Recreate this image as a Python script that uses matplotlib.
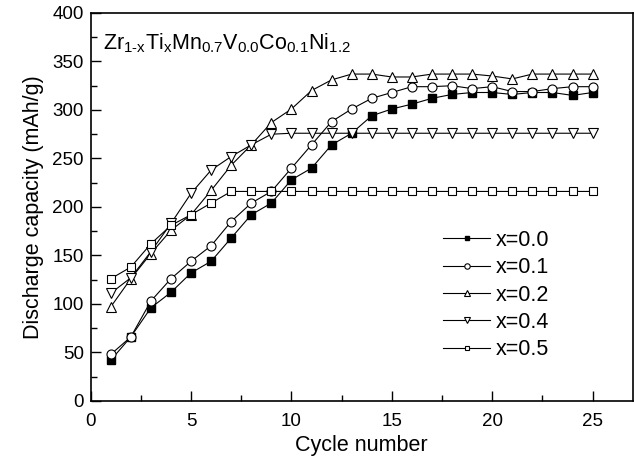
import matplotlib
matplotlib.use('Agg')
import matplotlib.pyplot as plt
from matplotlib.ticker import MultipleLocator

plt.rcParams['font.family'] = 'Liberation Sans'
plt.rcParams['mathtext.fontset'] = 'custom'
plt.rcParams['mathtext.rm'] = 'Liberation Sans'
plt.rcParams['mathtext.it'] = 'Liberation Sans'

cycles = list(range(1, 26))

# discharge capacity (mAh/g) for each Ti content
x00 = [42, 66, 96, 112, 132, 144, 168, 192, 204, 228, 240, 264, 276, 294, 301,
       306, 312, 316, 318, 318, 316, 318, 318, 315, 318]
x01 = [48, 66, 103, 126, 144, 160, 185, 204, 216, 240, 264, 288, 301, 312, 318,
       324, 324, 325, 322, 324, 319, 319, 322, 324, 324]
x02 = [97, 126, 152, 176, 192, 217, 243, 264, 287, 301, 320, 331, 337, 337, 334,
       334, 337, 337, 337, 335, 332, 337, 337, 337, 337]
x04 = [111, 127, 154, 183, 214, 238, 252, 264, 275, 276, 276, 276, 276, 276, 276,
       276, 276, 276, 276, 276, 276, 276, 276, 276, 276]
x05 = [126, 138, 162, 181, 192, 204, 216, 216, 216, 216, 216, 216, 216, 216, 216,
       216, 216, 216, 216, 216, 216, 216, 216, 216, 216]

labels = ['x=0.0', 'x=0.1', 'x=0.2', 'x=0.4', 'x=0.5']

fig = plt.figure(figsize=(6.34, 4.63), dpi=100)
ax = fig.add_axes([0.143, 0.134, 0.855, 0.838])

ax.plot(cycles, x00, '-s', color='black', mfc='black', ms=5.5, lw=0.8, label=labels[0])
ax.plot(cycles, x01, '-o', color='black', mfc='white', ms=6.5, lw=0.8, mew=0.8, label=labels[1])
ax.plot(cycles, x02, '-^', color='black', mfc='white', ms=7.5, lw=0.8, mew=0.8, label=labels[2])
ax.plot(cycles, x04, '-v', color='black', mfc='white', ms=7.5, lw=0.8, mew=0.8, label=labels[3])
ax.plot(cycles, x05, '-s', color='black', mfc='white', ms=5.5, lw=0.8, mew=0.8, label=labels[4])

ax.set_xlim(0, 27)
ax.set_ylim(0, 400)
ax.xaxis.set_major_locator(MultipleLocator(5))
ax.xaxis.set_minor_locator(MultipleLocator(2.5))
ax.yaxis.set_major_locator(MultipleLocator(50))
ax.yaxis.set_minor_locator(MultipleLocator(25))
ax.tick_params(which='both', direction='in', top=False, right=False, labelsize=13.5, width=1)
ax.tick_params(which='major', length=7)
ax.tick_params(which='minor', length=4)
ax.tick_params(axis='x', pad=9)
ax.tick_params(axis='y', pad=5)
for s in ax.spines.values():
    s.set_linewidth(1.2)

ax.set_xlabel('Cycle number', fontsize=15.5, labelpad=3)
ax.set_ylabel('Discharge capacity (mAh/g)', fontsize=15.5, labelpad=6)

ax.text(0.023, 0.922,
        r'$\mathrm{Zr_{1\text{-}x}Ti_xMn_{0.7}V_{0.0}Co_{0.1}Ni_{1.2}}$',
        transform=ax.transAxes, fontsize=15.5, va='center', ha='left')

leg = ax.legend(loc='center left', bbox_to_anchor=(0.65, 0.273), frameon=False,
                fontsize=15.5, markerscale=0.6, handlelength=2.2, labelspacing=0.3,
                handletextpad=0.25, borderpad=0, borderaxespad=0)

fig.savefig('out.png', dpi=100)
